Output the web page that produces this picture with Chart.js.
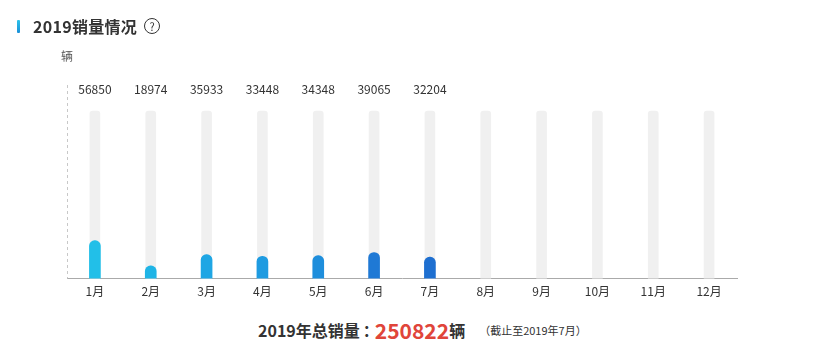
<!DOCTYPE html>
<html>
<head>
<meta charset="utf-8">
<script src="https://cdn.jsdelivr.net/npm/chart.js@4/dist/chart.umd.min.js"></script>
<style>
  html,body{margin:0;padding:0;background:#fff;font-family:"Noto Sans CJK SC","Noto Sans",sans-serif;}
  #wrap{position:relative;width:820px;height:351px;overflow:hidden;}
  #chartBox{position:absolute;left:0;top:0;width:820px;height:310px;}
  .title{position:absolute;left:17px;top:14px;height:24px;display:flex;align-items:center;}
  .title .mark{width:3px;height:13px;background:linear-gradient(#2cc3ea,#1a8fd8);border-radius:1px;margin-right:13px;}
  .title .txt{font-size:16px;font-weight:bold;color:#333;letter-spacing:0.3px;}
  .title .q{display:inline-block;width:14px;height:14px;border:1.3px solid #333;border-radius:50%;font-size:11px;line-height:14px;text-align:center;color:#333;margin-left:7px;}
  .unit{position:absolute;left:61px;top:47px;font-size:12px;color:#555;}
  .footer{position:absolute;left:258px;top:315px;color:#333;white-space:nowrap;display:flex;align-items:center;height:30px;}
  .footer .a{font-size:16px;font-weight:bold;}
  .footer .c{font-size:16px;font-weight:bold;margin-left:3px;margin-right:-4px;}
  .footer .n{font-size:21px;font-weight:bold;color:#e0453a;}
  .footer .s{font-size:11px;margin-left:14px;}
</style>
</head>
<body>
<div id="wrap">
  <div id="chartBox"><canvas id="c"></canvas></div>
  <div class="title"><span class="mark"></span><span class="txt">2019销量情况</span><span class="q">?</span></div>
  <div class="unit">辆</div>
  <div class="footer" id="footer"></div>
</div>
<script>
const months = ['1月','2月','3月','4月','5月','6月','7月','8月','9月','10月','11月','12月'];
const sales = [56850, 18974, 35933, 33448, 34348, 39065, 32204, null, null, null, null, null];
const barColors = ['#22bfe8','#1fb4e6','#1fa6e4','#1e9be1','#1e8edc','#1f79d5','#1e6fd0'];
const totalSales = 250822;
const yearLabel = '2019年总销量';
const colonLabel = '：';
const unitLabel = '辆';
const noteLabel = '（截止至2019年7月）';

const trackData = months.map(() => totalSales);

document.getElementById('footer').innerHTML =
  '<span class="a">' + yearLabel + '</span><span class="c">' + colonLabel + '</span><span class="n">' + totalSales + '</span><span class="a">' + unitLabel + '</span><span class="s">' + noteLabel + '</span>';

const labelPlugin = {
  id: 'valueLabels',
  beforeDatasetsDraw(chart) {
    const ctx = chart.ctx;
    const a = chart.chartArea;
    ctx.save();
    ctx.strokeStyle = '#c8c8c8';
    ctx.lineWidth = 1;
    ctx.setLineDash([3, 3]);
    ctx.beginPath();
    ctx.moveTo(a.left + 0.5, a.top);
    ctx.lineTo(a.left + 0.5, a.bottom);
    ctx.stroke();
    ctx.restore();
  },
  afterDatasetsDraw(chart) {
    const ctx = chart.ctx;
    const meta = chart.getDatasetMeta(0);
    ctx.save();
    ctx.font = '12px "Noto Sans CJK SC", "Noto Sans", sans-serif';
    ctx.fillStyle = '#333';
    ctx.textAlign = 'center';
    ctx.textBaseline = 'middle';
    meta.data.forEach((el, i) => {
      const v = sales[i];
      if (v === null || v === undefined) return;
      ctx.fillText(String(v), el.x, chart.chartArea.top + 4);
    });
    ctx.restore();
  }
};

new Chart(document.getElementById('c'), {
  type: 'bar',
  data: {
    labels: months,
    datasets: [
      {
        data: sales,
        backgroundColor: barColors,
        barThickness: 11,
        borderRadius: {topLeft: 5.5, topRight: 5.5, bottomLeft: 0, bottomRight: 0},
        borderSkipped: 'bottom',
        order: 0
      },
      {
        data: trackData,
        backgroundColor: '#f0f0f0',
        barThickness: 10,
        borderRadius: {topLeft: 3, topRight: 3, bottomLeft: 0, bottomRight: 0},
        borderSkipped: 'bottom',
        order: 1
      }
    ]
  },
  options: {
    responsive: true,
    maintainAspectRatio: false,
    animation: false,
    layout: {padding: {left: 67, right: 83, top: 85, bottom: 5}},
    plugins: {legend: {display: false}, tooltip: {enabled: false}},
    scales: {
      x: {
        stacked: true,
        grid: {display: false, drawTicks: false},
        border: {display: true, color: '#aaa', width: 1},
        ticks: {color: '#333', font: {size: 12, family: '"Noto Sans CJK SC", "Noto Sans", sans-serif'}, padding: 6}
      },
      y: {
        display: false,
        stacked: false,
        min: 0,
        max: 290000
      }
    }
  },
  plugins: [labelPlugin]
});
</script>
</body>
</html>
